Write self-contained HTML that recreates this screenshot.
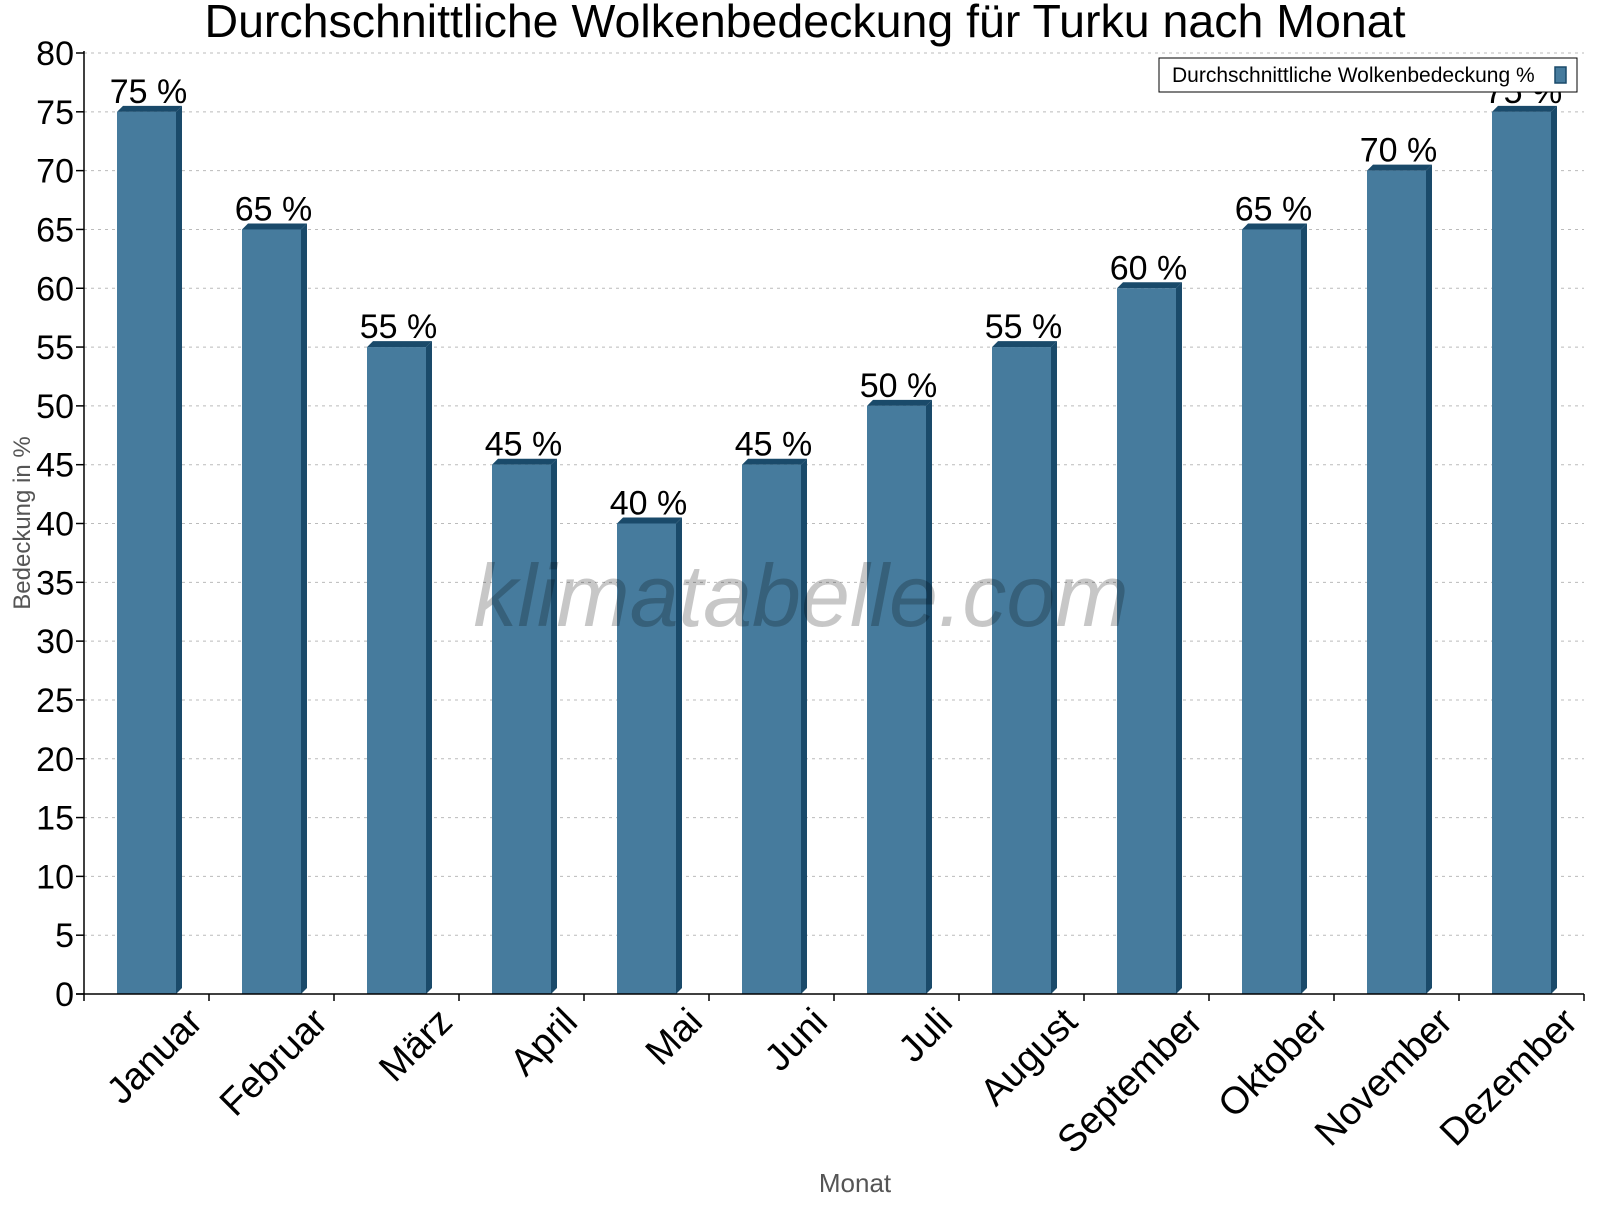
<!DOCTYPE html>
<html><head><meta charset="utf-8"><style>
body{margin:0;background:#fff;}
svg text{font-family:"Liberation Sans",Arial,sans-serif;}
</style></head><body>
<svg id="chart" width="1600" height="1200" xmlns="http://www.w3.org/2000/svg">
<text x="805" y="37" font-size="46.5" text-anchor="middle" fill="#000">Durchschnittliche Wolkenbedeckung für Turku nach Monat</text>
<g id="grid"></g>
<g id="bars"></g>
<text x="801" y="626" font-size="88" font-style="italic" fill="#000" fill-opacity="0.22" text-anchor="middle">klimatabelle.com</text>
<g id="axes"></g>
<text x="855" y="1192" font-size="26" fill="#555" text-anchor="middle">Monat</text>
<text transform="translate(30,523) rotate(-90)" font-size="24" fill="#555" text-anchor="middle">Bedeckung in %</text>
<g>
<rect x="1159" y="58" width="418" height="34" fill="#fff" stroke="#000" stroke-width="1"/>
<text x="1172" y="82" font-size="21" fill="#000">Durchschnittliche Wolkenbedeckung %</text>
<rect x="1555" y="67" width="11" height="16" fill="#467b9d" stroke="#1a4a6a" stroke-width="1.5"/>
</g>
</svg>
<script>
const months=["Januar","Februar","März","April","Mai","Juni","Juli","August","September","Oktober","November","Dezember"];
const values=[75,65,55,45,40,45,50,55,60,65,70,75];
const yTicks=[0,5,10,15,20,25,30,35,40,45,50,55,60,65,70,75,80];
const NS="http://www.w3.org/2000/svg";
const X0=84,X1=1584,Y0=994,Y1=53,YMAX=80;
const bw=(X1-X0)/months.length;
function y(v){return Y0-(v/YMAX)*(Y0-Y1);}
function xc(i){return X0+bw*(i+0.5);}
function mk(tag,attrs,parent){const e=document.createElementNS(NS,tag);for(const k in attrs)e.setAttribute(k,attrs[k]);parent.appendChild(e);return e;}
const grid=document.getElementById('grid'),bars=document.getElementById('bars'),axes=document.getElementById('axes');
yTicks.forEach(t=>{
  if(t>0){const l=mk('line',{x1:X0,x2:X1,y1:y(t),y2:y(t),stroke:'#bbb','stroke-dasharray':'3,4'},grid);
  
  }
  const tk=mk('line',{x1:X0-8,x2:X0,y1:y(t),y2:y(t),stroke:'#000','stroke-width':1.5},axes);
  
  
  const tx=mk('text',{x:X0-10,y:y(t)+12,'font-size':34,'text-anchor':'end',fill:'#000'},axes);
  tx.textContent=t;
  
  
});
const fw=59,d=6;
values.forEach((v,i)=>{
  const cx=xc(i),l=cx-fw/2,r=cx+fw/2,top=y(v);
  const g=mk('g',{},bars);
  
  
  mk('polygon',{points:`${r},${Y0} ${r},${top} ${r+d},${top-d} ${r+d},${Y0-d}`,fill:'#1a4a6a'},g);
  mk('polygon',{points:`${l},${top} ${l+d},${top-d} ${r+d},${top-d} ${r},${top}`,fill:'#1a4a6a'},g);
  mk('rect',{x:l,y:top,width:fw,height:Y0-top,fill:'#467b9d'},g);
  const lb=mk('text',{x:cx+2,y:top-9,'font-size':34,'text-anchor':'middle',fill:'#000'},bars);
  lb.textContent=v+' %';
  
  
  const xl=mk('text',{transform:`translate(${cx+58},${Y0+30}) rotate(-45)`,'font-size':38,'text-anchor':'end',fill:'#000'},axes);
  xl.textContent=months[i];
  
  
});
for(let i=0;i<=months.length;i++){
  const tk=mk('line',{x1:X0+bw*i,x2:X0+bw*i,y1:Y0,y2:Y0+7,stroke:'#000','stroke-width':1.5},axes);
  
  
}
const ya=mk('line',{x1:X0,x2:X0,y1:Y1-2,y2:Y0,stroke:'#000','stroke-width':1.5},axes);


const xa=mk('line',{x1:X0-8,x2:X1,y1:Y0,y2:Y0,stroke:'#000','stroke-width':1.5},axes);


</script>
</body></html>
